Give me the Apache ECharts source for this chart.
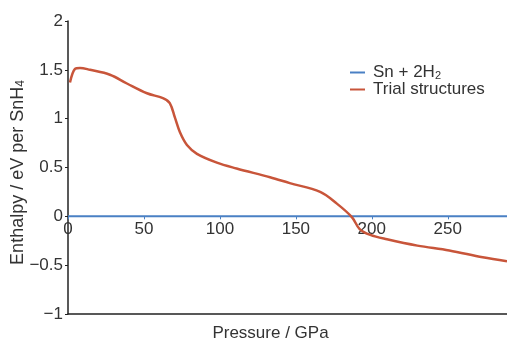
<!DOCTYPE html>
<html>
<head>
<meta charset="utf-8">
<script src="https://cdn.jsdelivr.net/npm/echarts@6/dist/echarts.min.js"></script>
<style>html,body{margin:0;padding:0;background:#fff}#c{width:507px;height:338px}</style>
</head>
<body>
<div id="c"></div>
<script>
// Data
const legendNames = ['Sn + 2H2', 'Trial structures'];
const referencePressure = [0, 289];
const referenceEnthalpy = [0, 0];
const trialPressure = [1.3, 4.6, 7.9, 14.5, 27.6, 38.8, 52, 62.5, 67, 70.4, 73.7, 78.3, 84.9, 98, 111, 133, 146, 166, 177, 187, 192, 199, 210, 230, 251, 273, 289];
const trialEnthalpy = [1.37, 1.51, 1.52, 1.50, 1.45, 1.36, 1.26, 1.21, 1.16, 1.01, 0.86, 0.73, 0.64, 0.55, 0.49, 0.40, 0.34, 0.25, 0.13, -0.01, -0.13, -0.19, -0.235, -0.30, -0.35, -0.42, -0.46];
const xTicks = [0, 50, 100, 150, 200, 250];
const yTicks = [-1, -0.5, 0, 0.5, 1, 1.5, 2];

const font = 'Liberation Sans, Arial, sans-serif';
const fs = 17;
const txt = '#333';
const subStyle = { fontSize: 11, verticalAlign: 'bottom', lineHeight: 8, fontFamily: font, color: txt };
const chart = echarts.init(document.getElementById('c'));
const zip = (a, b) => a.map((v, i) => [v, b[i]]);
const yMin = yTicks[0], yMax = yTicks[yTicks.length - 1];
const plotTop = 21, plotBottom = 24, H = 338;
const zeroPx = (H - plotBottom) - (H - plotTop - plotBottom) * (0 - yMin) / (yMax - yMin);
chart.setOption({
  animation: false,
  grid: [
    { left: 68, top: plotTop, right: 0, bottom: plotBottom, containLabel: false, outerBoundsMode: 'none' },
    { left: 68, top: plotTop, right: 0, bottom: H - zeroPx, containLabel: false, outerBoundsMode: 'none' }
  ],
  legend: {
    data: legendNames,
    orient: 'vertical',
    left: 345, top: 59,
    itemWidth: 15, itemHeight: 2, itemGap: 0,
    icon: 'rect',
    formatter: n => n === 'Sn + 2H2' ? 'Sn + 2H{sub|2}' : n,
    textStyle: { fontFamily: font, fontSize: fs, color: txt, padding: [0, 0, 0, 3],
      rich: { sub: subStyle } }
  },
  xAxis: [{
    gridIndex: 0, type: 'value', min: 0, max: 289, position: 'bottom',
    axisLine: { show: true, onZero: false, lineStyle: { color: '#222', width: 1.5 } },
    axisTick: { show: false }, axisLabel: { show: false }, splitLine: { show: false },
    name: 'Pressure / GPa', nameLocation: 'middle', nameGap: 11, nameMoveOverlap: false,
    nameTextStyle: { fontFamily: font, fontSize: fs, color: txt, padding: [0, 34, 0, 0] }
  }, {
    gridIndex: 1, type: 'value', min: 0, max: 289, interval: 50, position: 'bottom',
    axisLine: { show: false, onZero: false },
    axisTick: { show: true, length: 3, lineStyle: { color: '#4a80c4' } },
    axisLabel: { fontFamily: font, fontSize: fs, color: txt, margin: 4, showMaxLabel: false,
      formatter: v => xTicks.includes(v) ? String(v) : '' },
    splitLine: { show: false }
  }],
  yAxis: [{
    gridIndex: 0, type: 'value', min: yMin, max: yMax, interval: 0.5,
    axisLine: { show: true, onZero: false, lineStyle: { color: '#222', width: 1.5 } },
    axisTick: { show: true, length: 3, lineStyle: { color: '#222' } },
    axisLabel: { fontFamily: font, fontSize: fs, color: txt, margin: 5,
      formatter: v => String(v).replace('-', '\u2212') },
    splitLine: { show: false },
    name: 'Enthalpy / eV per SnH{sub|4}', nameLocation: 'middle', nameGap: 41, nameMoveOverlap: false,
    nameTextStyle: { fontFamily: font, fontSize: 18, color: txt, padding: [0, 10, 0, 0],
      rich: { sub: Object.assign({}, subStyle, { fontSize: 12 }) } }
  }, {
    gridIndex: 1, type: 'value', min: 0, max: 1, show: false
  }],
  series: [{
    name: legendNames[0], type: 'line', showSymbol: false, xAxisIndex: 0, yAxisIndex: 0,
    data: zip(referencePressure, referenceEnthalpy),
    lineStyle: { color: '#4a80c4', width: 2 }, itemStyle: { color: '#4a80c4' }, z: 3
  }, {
    name: legendNames[1], type: 'line', showSymbol: false, smooth: 0.35, xAxisIndex: 0, yAxisIndex: 0,
    data: zip(trialPressure, trialEnthalpy),
    lineStyle: { color: '#c8553a', width: 2.5 }, itemStyle: { color: '#c8553a' }, z: 4
  }]
});
</script>
</body>
</html>
